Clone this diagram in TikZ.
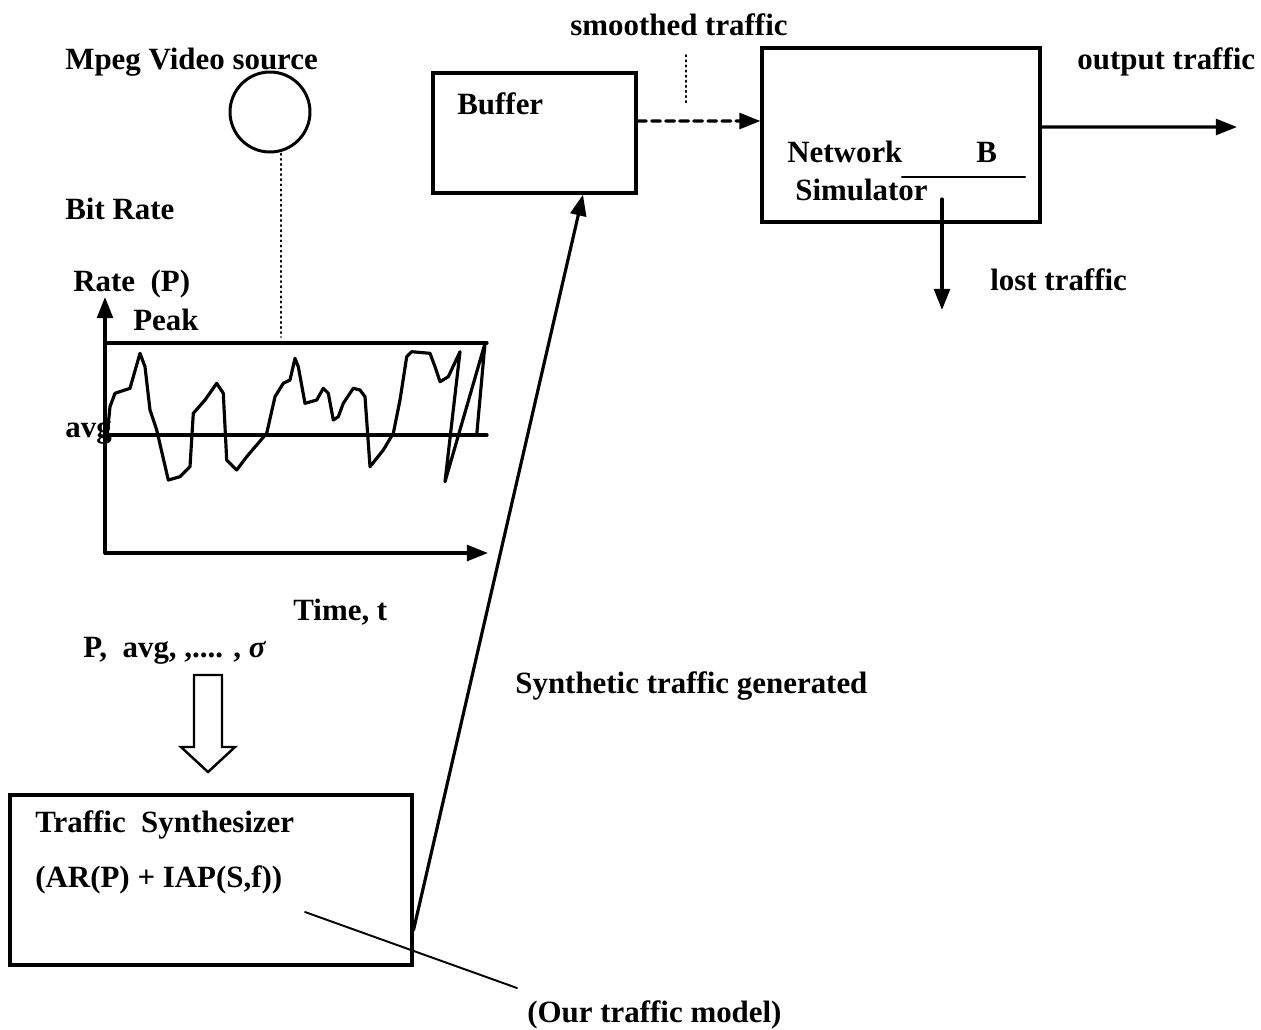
\documentclass[tikz,border=0pt]{standalone}
\usepackage{fontspec}
\setmainfont{Liberation Serif}
\usepackage{tikz}
\usetikzlibrary{arrows.meta,calc,positioning}

\begin{document}
\begin{tikzpicture}[x=0.02cm,y=-0.02cm,line cap=round,line join=round,
  >={Triangle[length=12pt,width=9pt]},
  txt/.style={anchor=west,inner sep=0pt,font=\fontsize{17.6}{20}\selectfont\bfseries},
  blockbox/.style={draw,line width=1.8pt,line join=miter,rectangle,inner sep=0pt},
  flow/.style={->,line width=1.8pt},
  flowdash/.style={->,line width=1.8pt,dash pattern=on 5pt off 3pt},
  leader/.style={line width=.9pt,dotted}]
 \useasboundingbox (0,0) rectangle (1261,1029);
 % boxes
 \node[draw,circle,line width=1.7pt,minimum size=1.6cm] (src) at (270,112) {};
 \node[blockbox,minimum width=4.06cm,minimum height=2.4cm] (buffer) at (534.5,133) {};
 \node[blockbox,minimum width=5.56cm,minimum height=3.48cm] (net) at (901,135) {};
 \node[blockbox,minimum width=8.04cm,minimum height=3.4cm] (synth) at (211,880) {};
 % texts
 \node[txt] (srclbl) at (65,62) {Mpeg Video source};
 \node[txt] (bitrate) at (65,209) {Bit Rate};
 \node[txt] (ratelbl) at (73,284) {Rate~~(P)};
 \node[txt] (peaklbl) at (133,320) {Peak};
 \node[txt] (avglbl) at (65,433) {avg};
 \node[txt] (timelbl) at (293,612) {Time, t};
 \node[txt] (params) at (83,651) {P,~~avg, ,.... , {\itshape σ}};
 \node[txt] (smooth) at (570,25) {smoothed traffic};
 \node[txt] (buflbl) at (457,104) {Buffer};
 \node[txt] (outlbl) at (1077,62) {output traffic};
 \node[txt] (netlbl) at (787,152) {Network};
 \node[txt] (blbl) at (976,152) {B};
 \node[txt] (simlbl) at (795,190) {Simulator};
 \node[txt] (lostlbl) at (990,280) {lost traffic};
 \node[txt] (genlbl) at (515,686) {Synthetic traffic generated};
 \node[txt] (synlbl) at (35,825) {Traffic~~Synthesizer};
 \node[txt] (modlbl) at (35,880) {(AR(P) + IAP(S,f))};
 \node[txt] (ourlbl) at (527,1015) {(Our traffic model)};
 % bit rate plot
 \coordinate (orig) at (105,553);
 \draw[flow] (orig) -- (105,297);
 \draw[flow] (orig) -- (488,553);
 \draw[line width=1.9pt] (105,343) -- (487,343);
 \draw[line width=1.9pt] (105,435) -- (487,435);
 \draw[line width=1.8pt] plot coordinates {(106.7,440) (110,406.7) (115,393.3)
  (130,388.3) (140,353.3) (145,366.7) (150,410) (156.7,430) (168.3,480)
  (180,476.7) (190,466.7) (193.3,413.3) (205,400) (216.7,383.3) (223.3,393.3)
  (226.7,460) (236.7,470) (246.7,456.7) (256.7,445) (266.7,433.3) (275,396.7)
  (283.3,383.3) (290,380) (295,358.3) (298.3,366.7) (305,403.3) (316.7,400)
  (323.3,388.3) (328.3,393.3) (333.3,420) (338.3,416.7) (343.3,403.3)
  (353.3,388.3) (360,390) (365,396.7) (370,466.7) (383.3,450) (393.3,433.3)
  (400,400) (406.7,356.7) (411.7,351.7) (430,353.3) (435,366.7) (440,381.7)
  (448.3,376.7) (460,351.7) (445,481.7) (485,343.3) (476.7,435)};
 % hollow arrow
 \draw[line width=1.4pt,line join=miter] (194,675) -- (222,675) -- (222,747)
  -- (235,747) -- (208,772) -- (181,747) -- (194,747) -- cycle;
 % connectors
 \coordinate (srcfoot) at (281,337);
 \draw[leader] ([xshift=.22cm]src.south) -- (srcfoot);
 \coordinate (smtop) at (686,55);
 \coordinate (smbot) at (686,103);
 \draw[leader] (smtop) -- (smbot);
 \draw[flowdash] ([yshift=.24cm]buffer.east) -- ([yshift=.28cm]net.west);
 \coordinate (outend) at (1237,127);
 \draw[flow] ([yshift=.16cm]net.east) -- (outend);
 \coordinate (bstart) at (902,177);
 \coordinate (bend) at (1025,177);
 \draw[line width=1.2pt] (bstart) -- (bend);
 \coordinate (losttop) at (942,199);
 \coordinate (lostend) at (942,310);
 \draw[flow] (losttop) -- (lostend);
 \draw[flow] ([yshift=-1cm]synth.east) -- ([xshift=.97cm]buffer.south);
 \coordinate (modstart) at (305,912);
 \coordinate (modend) at (517,988);
 \draw[line width=1.1pt] (modstart) -- (modend);
\end{tikzpicture}
\end{document}
